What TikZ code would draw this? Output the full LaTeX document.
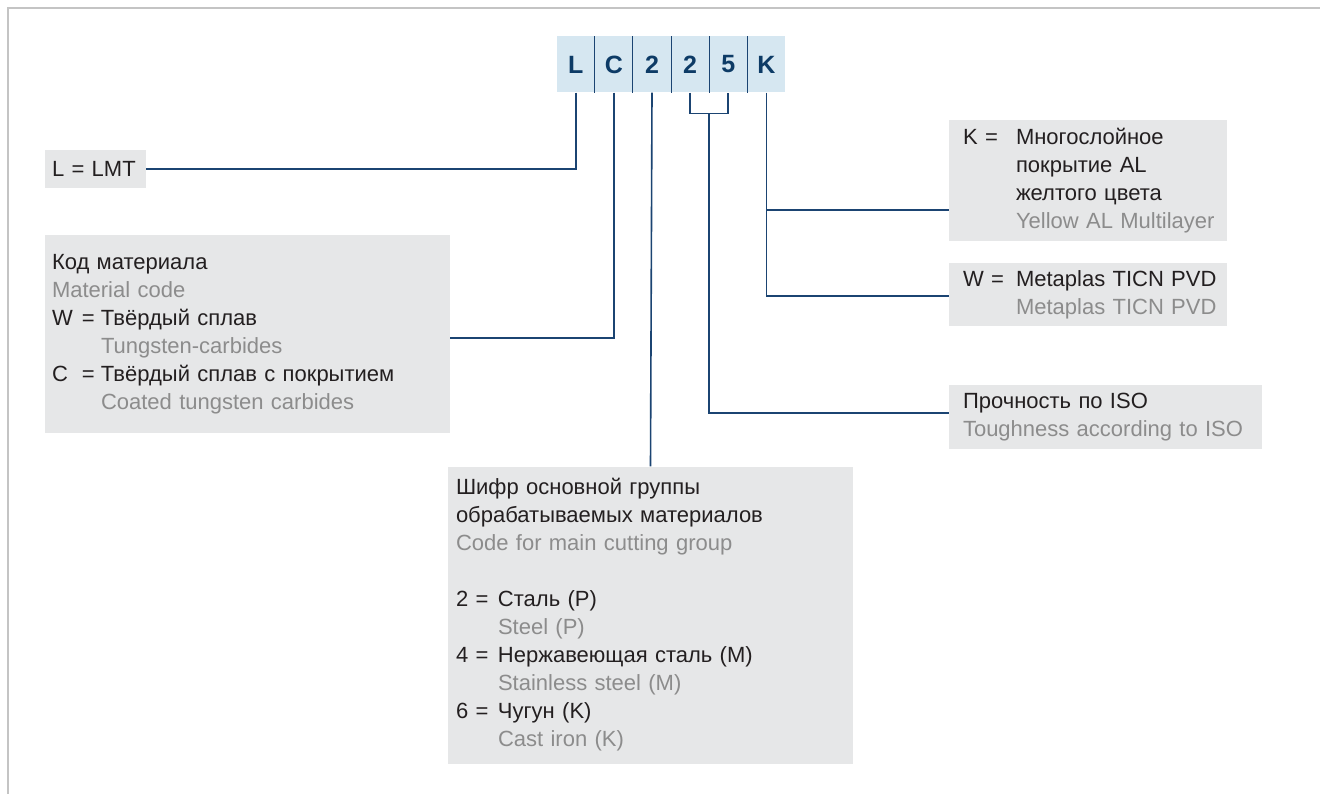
\documentclass[tikz,border=0pt]{standalone}
\usepackage{fontspec}
\setmainfont{Liberation Sans}
\usetikzlibrary{positioning,calc}
\definecolor{navy}{HTML}{1B4472}
\definecolor{codeblue}{HTML}{0D3B66}
\definecolor{cellfill}{HTML}{D6E7F1}
\definecolor{boxfill}{HTML}{E6E7E8}
\definecolor{txt}{HTML}{231F20}
\definecolor{entxt}{HTML}{8C8C8C}
\definecolor{framegray}{HTML}{C4C4C4}
\newcommand{\engl}[1]{{\color{entxt}#1}}

\begin{document}
\begin{tikzpicture}[x=1pt, y=-1pt,
    every node/.style={font=\fontsize{22}{28}\selectfont, text=txt},
    box/.style={fill=boxfill, align=left, inner ysep=0pt},
    codecell/.style={fill=cellfill, minimum width=37.7pt, minimum height=56pt, inner sep=0pt,
      font=\fontsize{25}{28}\selectfont\bfseries, text=codeblue},
    link/.style={draw=navy, line width=1.6pt}]
  \useasboundingbox (0,0) rectangle (1320,794);
  % outer frame
  \draw[framegray, line width=2pt] (8,794) -- (8,8) -- (1320,8);

  % designation code
  \node[codecell] (cL) at (575.8,64.5) {L};
  \node[codecell, right=0pt of cL] (cC) {C};
  \node[codecell, right=0pt of cC] (c2a) {2};
  \node[codecell, right=0pt of c2a] (c2b) {2};
  \node[codecell, right=0pt of c2b] (c5) {5};
  \node[codecell, right=0pt of c5] (cK) {K};
  \foreach \a in {cL,cC,c2a,c2b,c5}
    \draw[navy, line width=1pt] (\a.north east) -- (\a.south east);

  % explanation boxes
  \node[box, text width=87pt, inner xsep=7pt, minimum height=38pt] (lmt) at (95.5,169) {L = LMT};
  \node[box, text width=391pt, inner xsep=7pt, minimum height=198pt] (mat) at (247.5,334) {%
    Код материала\\
    \engl{Material code}\\
    \makebox[49pt][l]{\makebox[30pt][l]{W}=}Твёрдый сплав\\
    \hspace*{49pt}\engl{Tungsten-carbides}\\
    \makebox[49pt][l]{\makebox[30pt][l]{C}=}Твёрдый сплав с покрытием\\
    \hspace*{49pt}\engl{Coated tungsten carbides}};
  \node[box, text width=389pt, inner xsep=8pt, minimum height=297pt] (cut) at (650.5,615) {%
    Шифр основной группы\\
    обрабатываемых материалов\\
    \engl{Code for main cutting group}\\[28pt]
    \makebox[42pt][l]{2 =}Сталь (P)\\
    \hspace*{42pt}\engl{Steel (P)}\\
    \makebox[42pt][l]{4 =}Нержавеющая сталь (M)\\
    \hspace*{42pt}\engl{Stainless steel (M)}\\
    \makebox[42pt][l]{6 =}Чугун (K)\\
    \hspace*{42pt}\engl{Cast iron (K)}};
  \node[box, text width=271pt, inner xsep=3.5pt, minimum height=121pt] (kbox) at (1088,181) {%
    \hspace*{10.5pt}\makebox[53pt][l]{K =}Многослойное\\
    \hspace*{63.5pt}покрытие AL\\
    \hspace*{63.5pt}желтого цвета\\
    \hspace*{63.5pt}\engl{Yellow AL Multilayer}};
  \node[box, text width=271pt, inner xsep=3.5pt, minimum height=63pt] (wbox) at (1088,295) {%
    \hspace*{10.5pt}\makebox[53pt][l]{W =}Metaplas TICN PVD\\
    \hspace*{63.5pt}\engl{Metaplas TICN PVD}};
  \node[box, text width=306pt, inner xsep=3.5pt, minimum height=64pt] (tough) at (1105.5,417) {%
    \hspace*{10.5pt}Прочность по ISO\\
    \hspace*{10.5pt}\engl{Toughness according to ISO}};

  % connectors
  \draw[link] (cL.south) |- (lmt.east);
  \draw[link] (cC.south) |- ([yshift=-4pt]mat.east);
  \draw[link] (c2a.south) -- (cut.north);
  \coordinate[below=21pt of c2b.south] (b2);
  \coordinate[below=21pt of c5.south] (b5);
  \draw[link] (c2b.south) -- (b2) -- (b5) -- (c5.south);
  \coordinate (bmid) at ($(b2)!0.5!(b5)$);
  \draw[link] (bmid) |- ([yshift=4pt]tough.west);
  \coordinate (kt) at ([yshift=-29pt]kbox.west);
  \draw[link] (cK.south) |- ([yshift=-1pt]wbox.west);
  \draw[link] (cK.south |- kt) -- (kt);
\end{tikzpicture}
\end{document}
